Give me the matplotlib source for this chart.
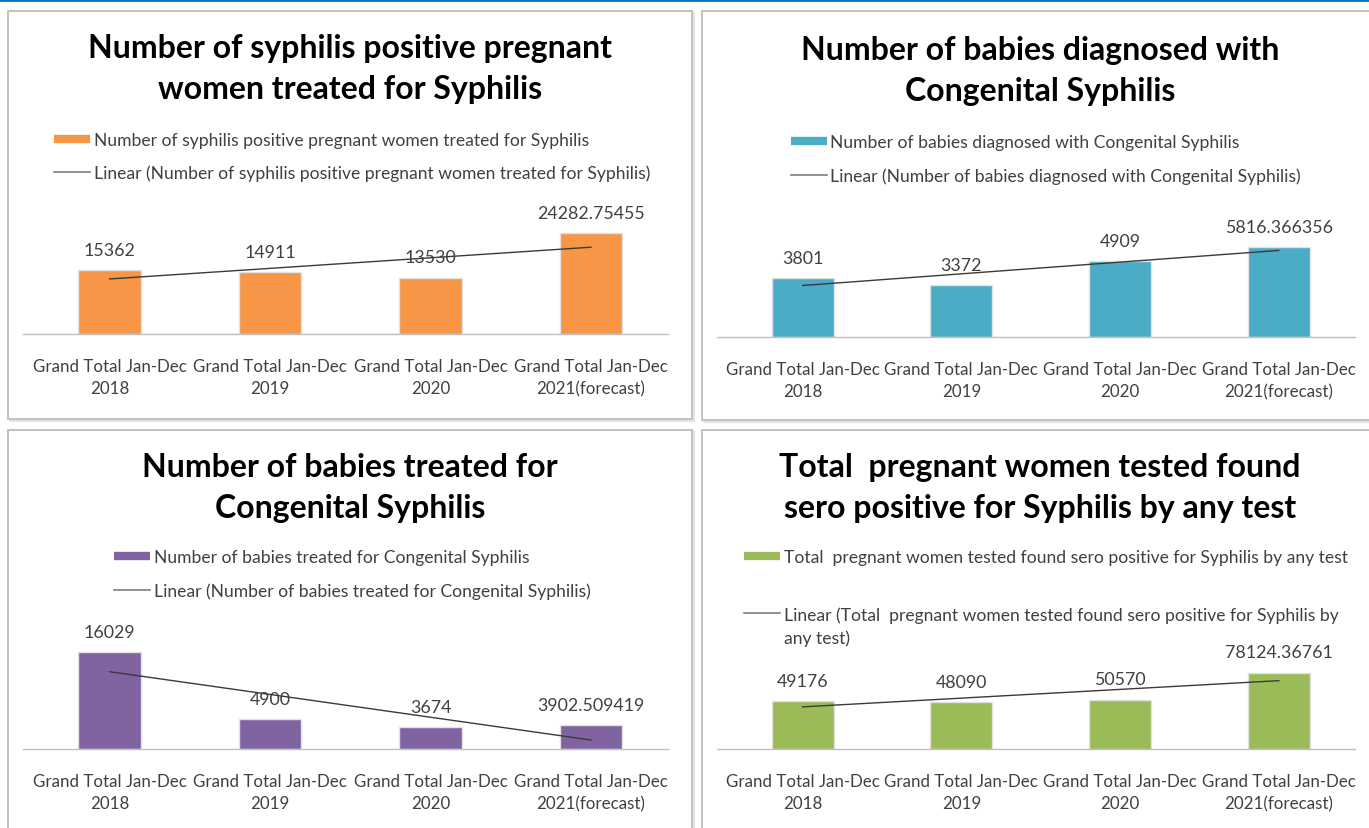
import numpy as np
import matplotlib
matplotlib.use("Agg")
import matplotlib.pyplot as plt
from matplotlib.patches import Rectangle
from matplotlib.lines import Line2D
from matplotlib.legend_handler import HandlerLine2D

# ---------------- data ----------------
categories = ["Grand Total Jan-Dec\n2018", "Grand Total Jan-Dec\n2019",
              "Grand Total Jan-Dec\n2020", "Grand Total Jan-Dec\n2021(forecast)"]

women_treated = [15362, 14911, 13530, 24282.75455]
babies_diagnosed = [3801, 3372, 4909, 5816.366356]
babies_treated = [16029, 4900, 3674, 3902.509419]
sero_positive = [49176, 48090, 50570, 78124.36761]

titles = ["Number of syphilis positive pregnant\nwomen treated for Syphilis",
          "Number of babies diagnosed with\nCongenital Syphilis",
          "Number of babies treated for\nCongenital Syphilis",
          "Total  pregnant women tested found\nsero positive for Syphilis by any test"]
series_labels = ["Number of syphilis positive pregnant women treated for Syphilis",
                 "Number of babies diagnosed with Congenital Syphilis",
                 "Number of babies treated for Congenital Syphilis",
                 "Total  pregnant women tested found sero positive for Syphilis by any test"]
trend_labels = ["Linear (Number of syphilis positive pregnant women treated for Syphilis)",
                "Linear (Number of babies diagnosed with Congenital Syphilis)",
                "Linear (Number of babies treated for Congenital Syphilis)",
                "Linear (Total  pregnant women tested found sero positive for Syphilis by\nany test)"]
axis_max = [30000, 7000, 18000, 90000]
series = [women_treated, babies_diagnosed, babies_treated, sero_positive]

# ---------------- style / layout ----------------
colors = ["#F79646", "#4BACC6", "#8064A2", "#9BBB59"]
FONT = ["Lato", "DejaVu Sans"]
plt.rcParams["font.family"] = FONT
TXT = "#404040"
LEG_FS = 12.6

W, H = 1369, 829
fig = plt.figure(figsize=(W / 100, H / 100), dpi=100)


def fx(px):
    return px / W


def fy(py):
    return 1 - py / H


# panel layout in pixels
panels = [
    dict(box=(8, 12, 692, 420), tcx=350, tcy=69, leg_x=54, leg_y1=141, leg_y2=174,
         ax_x=(23, 668), base=335, axh=125),
    dict(box=(702, 12, 1380, 421), tcx=1040, tcy=71, leg_x=791, leg_y1=143, leg_y2=177,
         ax_x=(717, 1355), base=338, axh=108),
    dict(box=(8, 431, 692, 840), tcx=350, tcy=488, leg_x=114, leg_y1=558, leg_y2=592,
         ax_x=(23, 668), base=750, axh=109),
    dict(box=(702, 431, 1380, 840), tcx=1040, tcy=488, leg_x=744, leg_y1=558, leg_y2=627,
         ax_x=(717, 1355), base=750, axh=88),
]

# top blue rule
fig.add_artist(Line2D([0, 1], [fy(1), fy(1)], transform=fig.transFigure,
                      color="#0070C0", lw=2, zorder=-5))


class TopLineHandler(HandlerLine2D):
    def __init__(self, dy=0.0, **kw):
        super().__init__(**kw)
        self.dy = dy

    def create_artists(self, legend, orig_handle, xdescent, ydescent, width,
                       height, fontsize, trans):
        arts = super().create_artists(legend, orig_handle, xdescent, ydescent,
                                      width, height, fontsize, trans)
        for a in arts:
            a.set_ydata(np.asarray(a.get_ydata(), float) + self.dy)
        return arts


x = np.arange(len(categories))
for i, p in enumerate(panels):
    x0, y0, x1, y1 = p["box"]
    # panel frame (behind everything)
    fig.add_artist(Rectangle((fx(x0 + 1.5), fy(y1 + 1.5)), (x1 - x0) / W, (y1 - y0) / H,
                             transform=fig.transFigure, facecolor="none",
                             edgecolor="#E3E3E3", lw=1.5, zorder=-4))
    fig.add_artist(Rectangle((fx(x0), fy(y1)), (x1 - x0) / W, (y1 - y0) / H,
                             transform=fig.transFigure, facecolor="white",
                             edgecolor="#BDBDBD", lw=1.3, zorder=-3))
    # title
    fig.text(fx(p["tcx"]), fy(p["tcy"]), titles[i], ha="center", va="center",
             fontsize=23, fontweight="bold", color="black", linespacing=1.5)

    # axes
    ax0, ax1 = p["ax_x"]
    ax = fig.add_axes([fx(ax0), fy(p["base"]), (ax1 - ax0) / W, p["axh"] / H])
    ax.patch.set_visible(False)
    vals = series[i]
    ax.bar(x, vals, width=0.39, color=colors[i], edgecolor="#E2E2E2",
           linewidth=1.0, zorder=2)
    coef = np.polyfit(x, vals, 1)
    trend = np.polyval(coef, x)
    ax.plot([x[0], x[-1]], [trend[0], trend[-1]], color="#3A3A3A", lw=1.0, zorder=3)
    for xi, v in zip(x, vals):
        ax.annotate(str(v), (xi, v), xytext=(0, 14.5), textcoords="offset points",
                    ha="center", va="center", fontsize=12.8, color=TXT, zorder=4)
    ax.set_xlim(-0.54, 3.48)
    ax.set_ylim(0, axis_max[i])
    ax.set_xticks(x)
    ax.set_xticklabels(categories, fontsize=12.2, color=TXT, linespacing=1.45)
    ax.tick_params(axis="x", length=0, pad=17.5)
    ax.set_yticks([])
    for s in ["left", "right", "top"]:
        ax.spines[s].set_visible(False)
    ax.spines["bottom"].set_color("#BFBFBF")
    ax.spines["bottom"].set_linewidth(1.0)

    # legends
    hl = 36 / (LEG_FS * 100 / 72)
    h_bar = Line2D([], [], color=colors[i], lw=6, solid_capstyle="butt")
    fig.legend([h_bar], [series_labels[i]], loc="center left",
               bbox_to_anchor=(fx(p["leg_x"]), fy(p["leg_y1"])), frameon=False,
               borderpad=0, borderaxespad=0, handlelength=hl, handletextpad=0.2,
               fontsize=LEG_FS, labelcolor=TXT)
    h_line = Line2D([], [], color="#7F7F7F", lw=1.2)
    is_multi = "\n" in trend_labels[i]
    fig.legend([h_line], [trend_labels[i]], loc="center left",
               bbox_to_anchor=(fx(p["leg_x"]), fy(p["leg_y2"])), frameon=False,
               borderpad=0, borderaxespad=0, handlelength=hl, handletextpad=0.2,
               fontsize=LEG_FS, labelcolor=TXT,
               prop={"size": LEG_FS}, 
               handler_map={Line2D: TopLineHandler(dy=9.5 if is_multi else 0.0)})
    if is_multi:
        for t in fig.legends[-1].get_texts():
            t.set_linespacing(1.45)

fig.savefig("out.png", dpi=100, facecolor="white")
